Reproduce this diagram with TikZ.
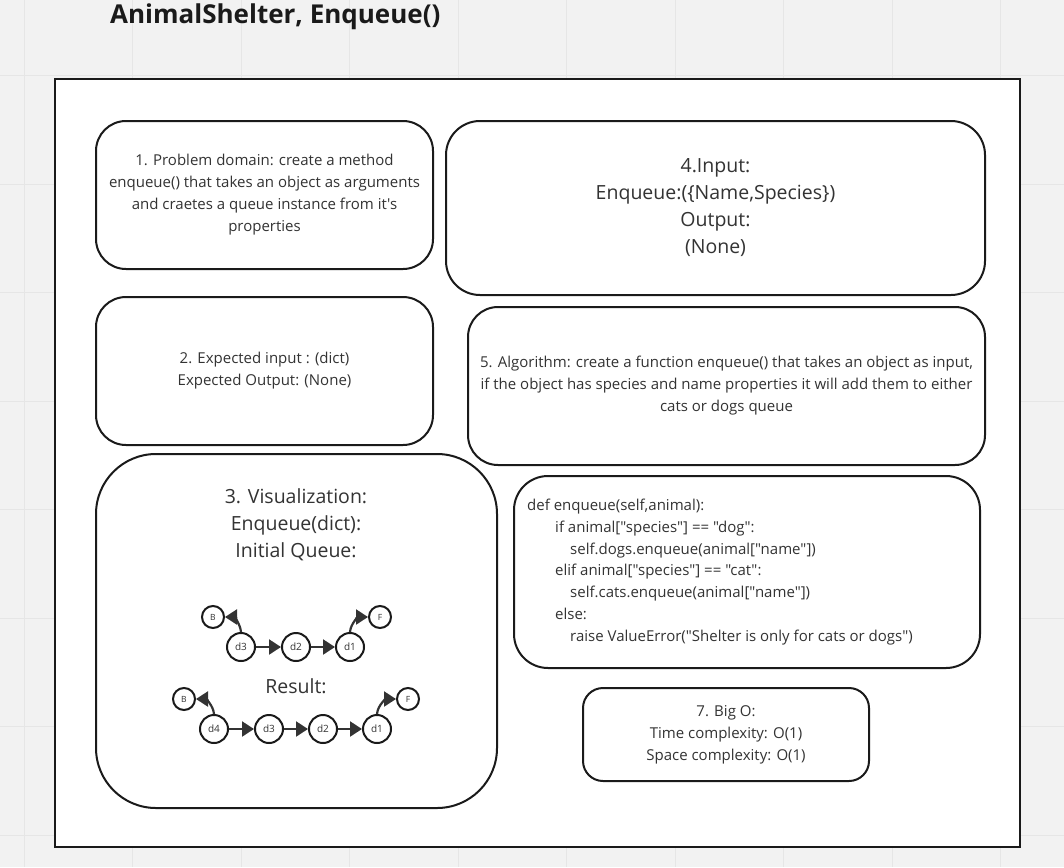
\documentclass[tikz,border=0pt]{standalone}
\usepackage{fontspec}
\setmainfont{Open Sans}[Ligatures=TeXOff]
\usetikzlibrary{arrows.meta, positioning}

\definecolor{inkgray}{HTML}{333333}
\definecolor{linegray}{HTML}{1A1A1A}
\definecolor{boardgray}{HTML}{F2F2F2}
\definecolor{gridgray}{HTML}{E6E6E6}

\tikzset{
  card/.style={draw=linegray, line width=2pt, fill=white, rounded corners=#1, inner sep=0pt},
  card/.default=30pt,
  cardtext/.style={text=inkgray, align=center, font=\fontsize{15}{22}\selectfont},
  bigtext/.style={text=inkgray, align=center, font=\fontsize{19.5}{27}\selectfont},
  qitem/.style={circle, draw=linegray, line width=2pt, fill=white, minimum size=28pt, inner sep=0pt, text=inkgray, font=\fontsize{10}{10}\selectfont},
  qend/.style={circle, draw=linegray, line width=2pt, fill=white, minimum size=22pt, inner sep=0pt, text=inkgray, font=\fontsize{8.5}{8.5}\selectfont},
  qarrow/.style={draw=inkgray, line width=2.2pt, -{Triangle[length=12pt, width=15pt]}}
}

\begin{document}
\begin{tikzpicture}[x=1pt, y=-1pt]
% board and grid
\fill [boardgray] (0,0) rectangle (1064,867);
\useasboundingbox (0,0) rectangle (1064,867);
\foreach \gx in {24,132.5,241,349.5,458,566.5,675,783.5,892,1000.5}
  \draw [gridgray, line width=1pt] (\gx,0) -- (\gx,867);
\foreach \gy in {75.5,184,292.5,401,509.5,618,726.5,835}
  \draw [gridgray, line width=1pt] (0,\gy) -- (1064,\gy);

% title and frame
\node (title) at (110,17) [anchor=west, inner sep=0pt, font=\fontsize{26}{26}\selectfont\bfseries, text=linegray] {AnimalShelter, Enqueue()};
\node (frame) at (537.5,463) [draw=linegray, line width=2pt, fill=white, minimum width=965pt, minimum height=768pt, inner sep=0pt] {};

% cards
\node (domain) at (264.5,195) [card, minimum width=337pt, minimum height=148pt, cardtext]
  {1. Problem domain: create a method\\enqueue() that takes an object as arguments\\and craetes a queue instance from it's\\properties};
\node (inout) at (715.5,208) [card=34pt, minimum width=539pt, minimum height=174pt, bigtext]
  {4.Input:\\Enqueue:(\{Name,Species\})\\Output:\\(None)};
\node (expected) at (264.5,371) [card, minimum width=337pt, minimum height=148pt, cardtext]
  {2. Expected input : (dict)\\Expected Output: (None)};
\node (algo) at (726.5,386) [card, minimum width=517pt, minimum height=158pt, cardtext]
  {5. Algorithm: create a function enqueue() that takes an object as input,\\if the object has species and name properties it will add them to either\\cats or dogs queue};
\node (viz) at (296.5,631) [card=60pt, minimum width=401pt, minimum height=354pt] {};
\node (code) at (747,572) [card=34pt, minimum width=466pt, minimum height=192pt] {};
\node (bigo) at (726,734.5) [card=20pt, minimum width=286pt, minimum height=93pt, cardtext]
  {7. Big O:\\Time complexity: O(1)\\Space complexity: O(1)};

% code listing
\node (codetext) at (527,572) [anchor=west, inner sep=0pt, align=left, text=inkgray, font=\fontsize{15}{21.8}\selectfont]
  {def enqueue(self,animal):\\
   \hspace*{28pt}if animal["species"] == "dog":\\
   \hspace*{43pt}self.dogs.enqueue(animal["name"])\\
   \hspace*{28pt}elif animal["species"] == "cat":\\
   \hspace*{43pt}self.cats.enqueue(animal["name"])\\
   \hspace*{28pt}else:\\
   \hspace*{43pt}raise ValueError("Shelter is only for cats or dogs")};

% visualization
\node (vizhead) at (296,524.5) [bigtext] {3. Visualization:\\Enqueue(dict):\\Initial Queue:};
\node (result) at (296,686) [bigtext] {Result:};

% initial queue
\node (ib) at (213,617) [qend] {B};
\node (id3) at (241,647) [qitem] {d3};
\node (id2) at (296,647) [qitem] {d2};
\node (id1) at (350,647) [qitem] {d1};
\node (if) at (380,617) [qend] {F};
\draw [qarrow] (id3) -- (id2);
\draw [qarrow] (id2) -- (id1);
\draw [qarrow] (id3.north) to[out=95, in=0] (ib.east);
\draw [qarrow] (id1.north) to[out=85, in=180] (if.west);

% result queue
\node (rb) at (184,699) [qend] {B};
\node (rd4) at (214,729) [qitem] {d4};
\node (rd3) at (269,729) [qitem] {d3};
\node (rd2) at (323,729) [qitem] {d2};
\node (rd1) at (377,729) [qitem] {d1};
\node (rf) at (408,699) [qend] {F};
\draw [qarrow] (rd4) -- (rd3);
\draw [qarrow] (rd3) -- (rd2);
\draw [qarrow] (rd2) -- (rd1);
\draw [qarrow] (rd4.north) to[out=95, in=0] (rb.east);
\draw [qarrow] (rd1.north) to[out=85, in=180] (rf.west);
\end{tikzpicture}
\end{document}
